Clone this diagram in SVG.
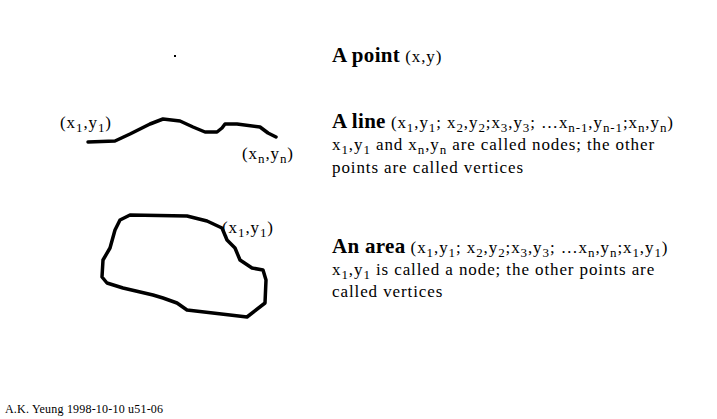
<svg xmlns="http://www.w3.org/2000/svg" width="717" height="419" viewBox="0 0 717 419">
<style>
text{font-family:"Liberation Serif","Times New Roman",serif;fill:#000}
.t{font-size:17px;letter-spacing:0.9px}
.b{font-size:21px;font-weight:bold;letter-spacing:0.3px}
.s{font-size:13px;letter-spacing:0.9px}
.stroke{fill:none;stroke:#000;stroke-width:3.5;stroke-linejoin:round;stroke-linecap:round}
</style>
<rect width="717" height="419" fill="#fff"/>
<g id="point">
<rect x="174" y="55" width="2" height="2" fill="#000"/>
<text x="332" y="62"><tspan class="b">A point</tspan><tspan class="t"> (x,y)</tspan></text>
</g>
<g id="line">
<path class="stroke" d="M88,142 L115,141 L130,134 L150,124 L163,119 L180,121 L193,127 L205,132 L217,132 L222,128 L225,124 L237,124 L260,127 L268,133 L276,137"/>
<text class="t" x="60" y="128">(x<tspan class="s" dy="4">1</tspan><tspan dy="-4">,y</tspan><tspan class="s" dy="4">1</tspan><tspan dy="-4">)</tspan></text>
<text class="t" x="242" y="159">(x<tspan class="s" dy="4">n</tspan><tspan dy="-4">,y</tspan><tspan class="s" dy="4">n</tspan><tspan dy="-4">)</tspan></text>
<text x="332" y="128"><tspan class="b">A line</tspan><tspan class="t"> (x</tspan><tspan class="s" dy="4">1</tspan><tspan class="t" dy="-4">,y</tspan><tspan class="s" dy="4">1</tspan><tspan class="t" dy="-4">; x</tspan><tspan class="s" dy="4">2</tspan><tspan class="t" dy="-4">,y</tspan><tspan class="s" dy="4">2</tspan><tspan class="t" dy="-4">;x</tspan><tspan class="s" dy="4">3</tspan><tspan class="t" dy="-4">,y</tspan><tspan class="s" dy="4">3</tspan><tspan class="t" dy="-4">; …x</tspan><tspan class="s" dy="4">n-1</tspan><tspan class="t" dy="-4">,y</tspan><tspan class="s" dy="4">n-1</tspan><tspan class="t" dy="-4">;x</tspan><tspan class="s" dy="4">n</tspan><tspan class="t" dy="-4">,y</tspan><tspan class="s" dy="4">n</tspan><tspan class="t" dy="-4">)</tspan></text>
<text class="t" x="332" y="150">x<tspan class="s" dy="4">1</tspan><tspan dy="-4">,y</tspan><tspan class="s" dy="4">1</tspan><tspan dy="-4"> and x</tspan><tspan class="s" dy="4">n</tspan><tspan dy="-4">,y</tspan><tspan class="s" dy="4">n</tspan><tspan dy="-4"> are called nodes; the other</tspan></text>
<text class="t" x="332" y="173">points are called vertices</text>
</g>
<g id="area">
<path class="stroke" d="M130,215 L187,216 L207,221 L222,228 L227,240 L235,248 L240,260 L252,268 L263,270 L266,280 L265,303 L247,317 L230,315 L187,310 L177,303 L163,298 L153,295 L123,288 L107,283 L102,277 L103,260 L110,248 L115,230 L120,220 Z"/>
<text class="t" x="222" y="233">(x<tspan class="s" dy="4">1</tspan><tspan dy="-4">,y</tspan><tspan class="s" dy="4">1</tspan><tspan dy="-4">)</tspan></text>
<text x="332" y="253"><tspan class="b">An area</tspan><tspan class="t"> (x</tspan><tspan class="s" dy="4">1</tspan><tspan class="t" dy="-4">,y</tspan><tspan class="s" dy="4">1</tspan><tspan class="t" dy="-4">; x</tspan><tspan class="s" dy="4">2</tspan><tspan class="t" dy="-4">,y</tspan><tspan class="s" dy="4">2</tspan><tspan class="t" dy="-4">;x</tspan><tspan class="s" dy="4">3</tspan><tspan class="t" dy="-4">,y</tspan><tspan class="s" dy="4">3</tspan><tspan class="t" dy="-4">; …x</tspan><tspan class="s" dy="4">n</tspan><tspan class="t" dy="-4">,y</tspan><tspan class="s" dy="4">n</tspan><tspan class="t" dy="-4">;x</tspan><tspan class="s" dy="4">1</tspan><tspan class="t" dy="-4">,y</tspan><tspan class="s" dy="4">1</tspan><tspan class="t" dy="-4">)</tspan></text>
<text class="t" x="332" y="275">x<tspan class="s" dy="4">1</tspan><tspan dy="-4">,y</tspan><tspan class="s" dy="4">1</tspan><tspan dy="-4"> is called a node; the other points are</tspan></text>
<text class="t" x="332" y="297">called vertices</text>
</g>
<text x="5" y="413" style="font-size:12px;letter-spacing:0.2px">A.K. Yeung 1998-10-10 u51-06</text>
</svg>
